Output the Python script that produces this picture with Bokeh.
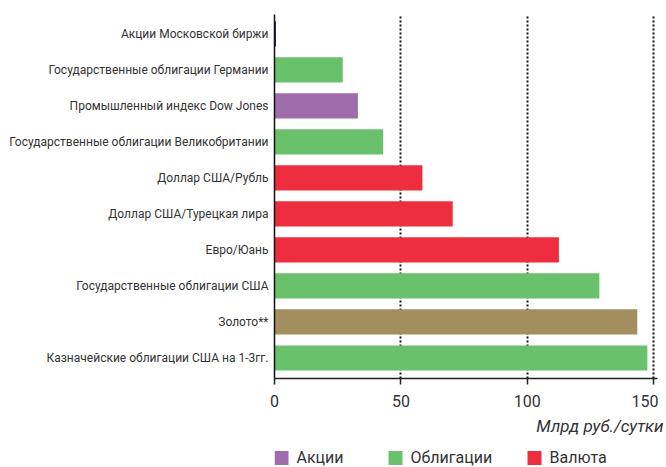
from bokeh.plotting import figure
from bokeh.layouts import column
from bokeh.models import Range1d, FixedTicker, Title, ColumnDataSource
from bokeh.embed import file_html
from bokeh.resources import INLINE

# Daily trading volume by instrument, bn RUB per day (top to bottom)
categories = [
    "Акции Московской биржи",
    "Государственные облигации Германии",
    "Промышленный индекс Dow Jones",
    "Государственные облигации Великобритании",
    "Доллар США/Рубль",
    "Доллар США/Турецкая лира",
    "Евро/Юань",
    "Государственные облигации США",
    "Золото**",
    "Казначейские облигации США на 1-3гг.",
]
values = [0.6, 27, 33, 43, 58.5, 70.5, 112.5, 128.5, 143.5, 147.5]
groups = ["moex", "bonds", "stocks", "bonds", "fx", "fx", "fx", "bonds", "gold", "bonds"]

group_colors = {
    "stocks": "#9f6dab",
    "bonds": "#69c16b",
    "fx": "#ee2d3e",
    "gold": "#a38e5f",
    "moex": "#3a2a72",
}
legend_groups = ["stocks", "bonds", "fx"]
legend_labels = ["Акции", "Облигации", "Валюта"]

x_ticks = [0, 50, 100, 150]
x_title = "Млрд руб./сутки"

FONT = "Roboto"
TEXT = "#333333"
W = 666
MAIN_H = 441
LEG_H = 26
LEFT = 274
RIGHT = 9

n = len(categories)
ypos = [n - 1 - i for i in range(n)]

p = figure(
    width=W, height=MAIN_H,
    x_range=Range1d(0, 151.5),
    y_range=Range1d(-0.57, 9.54),
    output_backend="svg", toolbar_location=None,
    min_border_left=LEFT, min_border_right=RIGHT,
    min_border_top=14, min_border_bottom=63,
)
p.outline_line_color = None

renderers = {}
for g, color in group_colors.items():
    idx = [i for i in range(n) if groups[i] == g]
    src = ColumnDataSource(dict(
        y=[ypos[i] for i in idx],
        v=[values[i] for i in idx],
    ))
    renderers[g] = p.hbar(y="y", right="v", left=0, height=0.7, source=src,
                          fill_color=color, line_color=None)

# value axis
p.xaxis.ticker = FixedTicker(ticks=x_ticks)
p.xaxis.major_label_overrides = {150: "150\u00a0\u00a0"}
p.xaxis.axis_line_color = "#222222"
p.xaxis.axis_line_width = 1.5
p.xaxis.major_tick_out = 6
p.xaxis.major_tick_in = 0
p.xaxis.major_tick_line_color = "#222222"
p.xaxis.major_tick_line_width = 1.5
p.xaxis.minor_tick_line_color = None
p.xaxis.major_label_text_font = FONT
p.xaxis.major_label_text_font_size = "16px"
p.xaxis.major_label_text_color = TEXT
p.xaxis.major_label_standoff = 7

# category axis
p.yaxis.ticker = FixedTicker(ticks=ypos)
p.yaxis.major_label_overrides = {ypos[i]: categories[i] for i in range(n)}
p.yaxis.axis_line_color = "#111111"
p.yaxis.axis_line_width = 1.5
p.yaxis.major_tick_out = 0
p.yaxis.major_tick_in = 0
p.yaxis.minor_tick_line_color = None
p.yaxis.major_label_text_font = FONT
p.yaxis.major_label_text_font_size = "12px"
p.yaxis.major_label_text_color = TEXT
p.yaxis.major_label_standoff = 6

p.ygrid.grid_line_color = None
p.xgrid.ticker = FixedTicker(ticks=x_ticks[1:])
p.xgrid.grid_line_color = "#111111"
p.xgrid.grid_line_width = 2
p.xgrid.grid_line_dash = "2 2"

# unit caption under the value axis, right aligned
p.add_layout(Title(text=x_title, align="right", text_font=FONT,
                   text_font_size="17px", text_font_style="italic",
                   text_color=TEXT, standoff=1, offset=-6), "below")

# legend strip, its frame lined up with the chart frame (pixel coordinates)
legend_x = [274, 388, 527]
lg = figure(
    width=W, height=LEG_H,
    x_range=Range1d(LEFT, W - RIGHT), y_range=Range1d(LEG_H, 0),
    output_backend="svg", toolbar_location=None,
    min_border_left=LEFT, min_border_right=RIGHT,
    min_border_top=0, min_border_bottom=0,
)
lg.outline_line_color = None
lg.axis.visible = False
lg.grid.visible = False
leg_src = ColumnDataSource(dict(
    sx=[x + 7 for x in legend_x],
    tx=[x + 22 for x in legend_x],
    color=[group_colors[g] for g in legend_groups],
    label=legend_labels,
))
lg.rect(x="sx", y=16.5, width=14, height=14, width_units="screen",
        height_units="screen", fill_color="color", line_color=None, source=leg_src)
lg.text(x="tx", y=16, text="label", source=leg_src, text_font_size="16px",
        text_color=TEXT, text_baseline="middle", text_align="left",
        text_font={"value": FONT})

layout = column(p, lg, spacing=0)
open("out.html", "w").write(file_html(layout, INLINE))
